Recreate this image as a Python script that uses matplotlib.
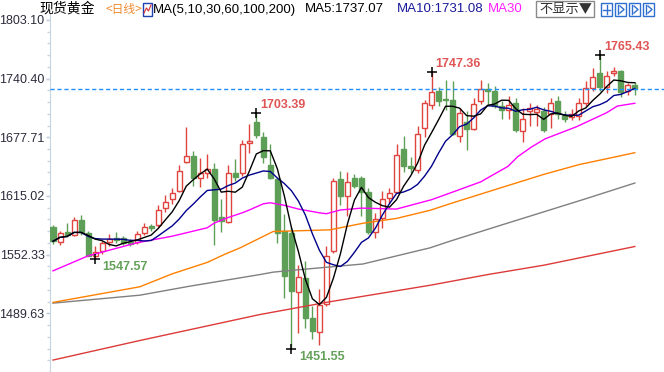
import matplotlib
matplotlib.use("Agg")
import matplotlib.pyplot as plt
from matplotlib.patches import Rectangle
import numpy as np
import pandas as pd

# ---------------- data ----------------
opens = [1582, 1566, 1576, 1573.6, 1589, 1575.4, 1551, 1556, 1566, 1570,
         1570, 1566, 1566, 1575, 1583, 1584, 1602, 1612, 1620, 1651,
         1658, 1634.5, 1640, 1644, 1592, 1587, 1639, 1639, 1672, 1694,
         1678, 1648, 1633, 1578, 1575, 1512, 1527, 1485, 1470, 1500,
         1556, 1633, 1615, 1634, 1634, 1619, 1576, 1591, 1613, 1619,
         1665, 1647, 1643, 1688, 1712, 1727, 1719, 1718, 1679, 1694,
         1687, 1716, 1729, 1727, 1711, 1707, 1714, 1684, 1706, 1705,
         1706, 1702, 1716, 1701, 1699, 1700, 1714, 1730, 1746, 1731,
         1746, 1748, 1727, 1734]
highs = [1584, 1578, 1586, 1592, 1595, 1578, 1561, 1567, 1574, 1576,
         1572, 1569, 1578, 1586, 1585, 1605, 1616, 1624, 1648, 1689,
         1663, 1655, 1660, 1650, 1612, 1648, 1654, 1675, 1692, 1703.39,
         1683, 1670, 1634, 1596, 1582, 1541, 1546, 1497, 1516, 1561,
         1634, 1642, 1641, 1638, 1636, 1623, 1597, 1620, 1623, 1670,
         1679, 1657, 1690, 1718, 1747.36, 1731, 1739, 1738, 1709, 1706,
         1720, 1739, 1736, 1732, 1716, 1722, 1720, 1709, 1714, 1712,
         1710, 1720, 1722, 1706, 1708, 1720, 1738, 1752, 1765.43, 1748,
         1753, 1749, 1736, 1737]
lows = [1564, 1563, 1571, 1572, 1573, 1551, 1547.57, 1553, 1562, 1565,
        1563, 1562, 1564, 1573, 1578, 1582, 1598, 1606, 1619, 1650,
        1626, 1625, 1634, 1563, 1576, 1586, 1631, 1636, 1661, 1677,
        1650, 1633, 1565, 1506, 1451.55, 1469, 1474, 1462, 1456, 1497,
        1554, 1605, 1594, 1623, 1594, 1574, 1570, 1581, 1607, 1619,
        1641, 1640, 1640, 1678, 1708, 1711, 1707, 1680, 1673, 1664,
        1685, 1713, 1712, 1709, 1697, 1697, 1683, 1673, 1690, 1690,
        1683, 1688, 1697, 1694, 1696, 1696, 1711, 1727, 1727, 1725,
        1743, 1721, 1723, 1723]
closes = [1566.6, 1575, 1573.6, 1589, 1576, 1551, 1555, 1565, 1569, 1568,
          1565, 1564, 1574, 1582, 1581, 1600, 1609, 1618, 1642, 1658,
          1634.5, 1640, 1644, 1589, 1588, 1639, 1635, 1671, 1674, 1680,
          1657, 1634, 1575, 1529, 1513, 1528, 1485, 1471, 1498, 1551,
          1631, 1615, 1630, 1626, 1619, 1576, 1590, 1612, 1618, 1659,
          1647, 1645, 1681, 1714, 1726, 1716, 1717, 1681, 1704, 1686,
          1713, 1729, 1727, 1711, 1706.5, 1712, 1685, 1697, 1709, 1708,
          1685, 1714, 1702, 1697, 1702, 1714, 1730, 1742, 1731, 1743,
          1748, 1726, 1733, 1729.7]

# longer moving averages (index, value)
ma30_idx = [0, 5, 12, 17, 22, 23, 25, 27, 28, 30, 31, 33, 35, 38, 39, 41, 44, 49, 54, 56.6, 61, 64.9, 66.3, 68.3, 70.2, 74.7, 79, 80.5, 83]
ma30_val = [1535, 1551, 1565, 1572, 1581, 1586, 1592, 1597, 1600, 1606.6, 1607.7, 1605, 1601, 1597, 1596, 1600, 1602, 1601, 1611, 1618, 1630, 1646.6, 1657, 1667.5, 1676, 1689, 1704, 1711, 1714]
ma60_idx = [0, 12.4, 17, 22, 24.5, 26.7, 30, 31.4, 39.5, 44.2, 49, 53.8, 56.6, 64, 70, 75, 83]
ma60_val = [1501.3, 1518, 1531.8, 1544, 1552.7, 1559.6, 1571.8, 1577, 1578.8, 1585.8, 1591, 1599.7, 1606.6, 1624, 1638, 1648.4, 1661.2]
ma100_idx = [0, 12.4, 19.5, 29.5, 31.4, 34.8, 44.2, 53.8, 56.6, 64, 70, 76, 83]
ma100_val = [1500.5, 1509, 1518.6, 1531, 1533.6, 1536, 1542.3, 1559.6, 1566.6, 1584, 1598, 1612, 1628.8]
ma200_idx = [0, 12.4, 29.5, 39.5, 53.8, 62, 70, 83]
ma200_val = [1439.7, 1460.6, 1488.3, 1502, 1519.6, 1531, 1541, 1561]

yticks = [1489.63, 1552.33, 1615.02, 1677.71, 1740.40, 1803.10]
extremes = [(29, 1703.39, "high"), (54, 1747.36, "high"), (78, 1765.43, "high"),
            (6, 1547.57, "low"), (34, 1451.55, "low")]

# ---------------- drawing ----------------
W, H = 664, 372
fig = plt.figure(figsize=(W / 100, H / 100), dpi=100)
fig.patch.set_facecolor("white")
ax = fig.add_axes([50 / W, 0, 1 - 50 / W, (H - 14) / H])

n = len(closes)
x = np.arange(n)
o = np.array(opens); h = np.array(highs); l = np.array(lows); c = np.array(closes)
up = c >= o
RED = "#e0443e"
GREEN = "#5e9f57"
bw = 0.72

for i in range(n):
    col = RED if up[i] else GREEN
    ax.vlines(x[i], l[i], h[i], color=col, lw=1, zorder=2)
    lo_b = min(o[i], c[i]); hi_b = max(o[i], c[i])
    hgt = max(hi_b - lo_b, 1.2)
    if up[i]:
        ax.add_patch(Rectangle((x[i] - bw / 2, lo_b), bw, hgt, facecolor="white",
                               edgecolor=col, lw=1, zorder=3))
    else:
        ax.add_patch(Rectangle((x[i] - bw / 2, lo_b), bw, hgt, facecolor=col,
                               edgecolor=col, lw=1, zorder=3))

cs = pd.Series(closes)
ma5 = cs.rolling(5, min_periods=1).mean()
ma10 = cs.rolling(10, min_periods=1).mean()

ax.plot(ma200_idx, ma200_val, color="#dd3a3a", lw=1, zorder=4)
ax.plot(ma100_idx, ma100_val, color="#808080", lw=1, zorder=4)
ax.plot(ma60_idx, ma60_val, color="#ff8000", lw=1, zorder=4)
ax.plot(ma30_idx, ma30_val, color="#ff00ff", lw=1, zorder=4)
ax.plot(x, ma10, color="#00008b", lw=1, zorder=5)
ax.plot(x, ma5, color="black", lw=1, zorder=6)

ax.axhline(closes[-1], color="#1e90ff", lw=1, ls=(0, (3, 2)), zorder=7)

for idx, val, kind in extremes:
    ax.plot([idx], [val], marker="+", color="black", ms=7, mew=1.1, zorder=8)
    if kind == "high":
        ax.annotate(f"{val:.2f}", (idx, val), xytext=(3, 1.5), textcoords="offset points",
                    ha="left", va="bottom", color="#e05555", fontsize=9,
                    fontweight="bold", family="Liberation Sans", zorder=9)
    else:
        ax.annotate(f"{val:.2f}", (idx, val), xytext=(5.5, -1.5), textcoords="offset points",
                    ha="left", va="top", color="#64a05a", fontsize=9,
                    fontweight="bold", family="Liberation Sans", zorder=9)

ax.set_xlim(-0.43, 87.16)
ax.set_ylim(1436.5, 1809.35)
ax.set_xticks([])
ax.set_yticks(yticks)
ax.set_yticklabels([f"{v:.2f}" for v in yticks], family="Liberation Sans",
                   fontsize=9, color="#2b2b3b")
ax.set_yticks(np.arange(yticks[0] - 62.69, yticks[-1] + 1, 62.69 / 5), minor=True)
ax.tick_params(axis="y", which="major", direction="out", length=3, width=1,
               color="#b8c8d8", pad=1)
ax.tick_params(axis="y", which="minor", direction="out", length=2, width=1,
               color="#c8d4e0")
for s in ["top", "right", "bottom"]:
    ax.spines[s].set_visible(False)
ax.spines["left"].set_color("#c8d4e0")

# ---------------- header ----------------
def ftxt(px, py, s, color="black", size=9.5, fam=None):
    fam = fam or ["Noto Sans CJK SC", "DejaVu Sans"]
    fig.text(px / W, 1 - py / H, s, color=color, fontsize=size, family=fam,
             ha="left", va="center")

ftxt(39, 9, "现货黄金", size=10)
ftxt(105, 9, "<日线>", color="#f08a30", size=8.5)
# small MA icon
fig.patches.append(Rectangle((143 / W, 1 - 16 / H), 9 / W, 13 / H, transform=fig.transFigure,
                             facecolor="white", edgecolor="#2040b0", lw=1))
fig.lines.append(plt.Line2D([144 / W, 146.5 / W, 148.5 / W, 151 / W],
                            [1 - 13 / H, 1 - 8 / H, 1 - 11 / H, 1 - 5 / H],
                            transform=fig.transFigure, color="#d03030", lw=0.8))
ftxt(153, 9.5, "MA(5,10,30,60,100,200)", size=9.5, fam=["Liberation Sans"])
ftxt(305, 9.5, "MA5:1737.07", size=9.5, fam=["Liberation Sans"])
ftxt(397, 9.5, "MA10:1731.08", color="#1a1a9a", size=9.5, fam=["Liberation Sans"])
ftxt(488, 9.5, "MA30", color="#ff20ff", size=9.5, fam=["Liberation Sans"])

# "不显示" button
fig.patches.append(Rectangle((536 / W, 1 - 17 / H), 58 / W, 16 / H, transform=fig.transFigure,
                             facecolor="white", edgecolor="#8a8a8a", lw=1))
ftxt(539, 9, "不显示▼", color="#333333", size=9.5)
# four tool icons
for k, ix in enumerate([601, 615, 629, 643]):
    fig.patches.append(Rectangle((ix / W, 1 - 16 / H), 11 / W, 13 / H, transform=fig.transFigure,
                                 facecolor="white", edgecolor="#2f6fd0", lw=1))
    cx = ix + 5.5
    if k == 0:
        fig.lines.append(plt.Line2D([cx / W, cx / W], [1 - 14 / H, 1 - 5 / H],
                                    transform=fig.transFigure, color="#2f6fd0", lw=1))
        fig.lines.append(plt.Line2D([(ix + 2) / W, (ix + 9) / W], [1 - 9.5 / H, 1 - 9.5 / H],
                                    transform=fig.transFigure, color="#2f6fd0", lw=1))
    else:
        fig.lines.append(plt.Line2D([(ix + 3) / W, (ix + 3) / W], [1 - 14 / H, 1 - 5 / H],
                                    transform=fig.transFigure, color="#2f6fd0", lw=1))
        fig.lines.append(plt.Line2D([(ix + 5) / W, (ix + 9) / W, (ix + 5) / W],
                                    [1 - 6 / H, 1 - 9.5 / H, 1 - 13 / H],
                                    transform=fig.transFigure, color="#2f6fd0", lw=1))

fig.savefig("out.png", dpi=100)
